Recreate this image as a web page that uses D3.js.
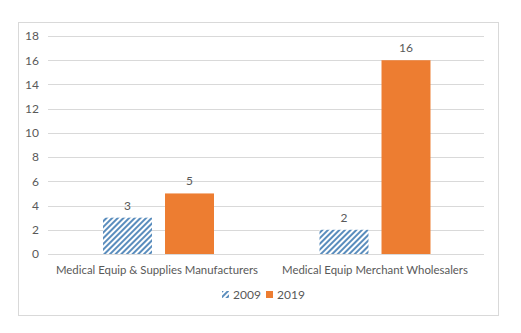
<!DOCTYPE html>
<html>
<head>
<meta charset="utf-8">
<script src="https://cdn.jsdelivr.net/npm/d3@7"></script>
<style>
  body { margin: 0; background: #fff; }
  svg text { font-family: Lato, "Open Sans", sans-serif; fill: #595959; }
</style>
</head>
<body>
<div id="chart"></div>
<script>
const categories = ["Medical Equip & Supplies Manufacturers", "Medical Equip Merchant Wholesalers"];
const seriesNames = ["2009", "2019"];
const values2009 = [3, 2];
const values2019 = [5, 16];
const yTicks = [0, 2, 4, 6, 8, 10, 12, 14, 16, 18];

const width = 521, height = 333;
const margin = { top: 36, right: 37, bottom: 79, left: 48 };
const chartWidth = width - margin.left - margin.right;
const chartHeight = height - margin.top - margin.bottom;

const svg = d3.select("#chart")
  .append("svg")
  .attr("width", width)
  .attr("height", height);

// hatch fill for the 2009 bars
const defs = svg.append("defs");
const hatch = defs.append("pattern")
  .attr("id", "hatch")
  .attr("patternUnits", "userSpaceOnUse")
  .attr("width", 4)
  .attr("height", 4)
  .attr("patternTransform", "rotate(45)");
hatch.append("rect").attr("width", 4).attr("height", 4).attr("fill", "#fff");
hatch.append("rect").attr("width", 2).attr("height", 4).attr("fill", "#5a8dbd");

// outer chart frame
svg.append("rect")
  .attr("x", 18.5)
  .attr("y", 22.5)
  .attr("width", 480)
  .attr("height", 293)
  .attr("fill", "none")
  .attr("stroke", "#d9d9d9");

const g = svg.append("g")
  .attr("transform", `translate(${margin.left},${margin.top})`);

const y = d3.scaleLinear().domain([0, 18]).range([chartHeight, 0]);

const x0 = d3.scaleBand()
  .domain(categories)
  .range([0, chartWidth])
  .paddingInner(0)
  .paddingOuter(0);

const x1 = d3.scaleBand()
  .domain(seriesNames)
  .range([0, x0.bandwidth()])
  .paddingInner(0.21)
  .paddingOuter(0.863);

// gridlines
g.append("g")
  .selectAll("line")
  .data(yTicks)
  .join("line")
  .attr("x1", 0)
  .attr("x2", chartWidth)
  .attr("y1", d => Math.round(y(d)) + 0.5)
  .attr("y2", d => Math.round(y(d)) + 0.5)
  .attr("stroke", "#d9d9d9");

// y axis labels
const yAxis = g.append("g")
  .call(d3.axisLeft(y).tickValues(yTicks).tickSize(0).tickPadding(9));
yAxis.select(".domain").remove();
yAxis.selectAll("text").attr("font-size", "12px").style("font-family", "Lato, sans-serif").attr("fill", "#595959");

const data = categories.map((c, i) => ({
  category: c,
  bars: [
    { series: "2009", value: values2009[i] },
    { series: "2019", value: values2019[i] }
  ]
}));

const groups = g.selectAll(".group")
  .data(data)
  .join("g")
  .attr("transform", (d, i) => `translate(${x0(d.category) + (i === 0 ? 1.5 : 0)},0)`);

groups.selectAll("rect")
  .data(d => d.bars)
  .join("rect")
  .attr("x", d => x1(d.series))
  .attr("width", x1.bandwidth())
  .attr("y", d => y(d.value))
  .attr("height", d => chartHeight - y(d.value))
  .attr("fill", d => d.series === "2009" ? "url(#hatch)" : "#ed7d31");

groups.selectAll(".value")
  .data(d => d.bars)
  .join("text")
  .attr("class", "value")
  .attr("x", d => x1(d.series) + x1.bandwidth() / 2)
  .attr("y", d => y(d.value) - 8)
  .attr("text-anchor", "middle")
  .attr("font-size", "12px")
  .text(d => d.value);

// category labels
g.selectAll(".cat")
  .data(categories)
  .join("text")
  .attr("class", "cat")
  .attr("x", d => x0(d) + x0.bandwidth() / 2)
  .attr("y", chartHeight + 20)
  .attr("text-anchor", "middle")
  .attr("font-size", "11.4px")
  .text(d => d);

// legend
const legend = svg.append("g").attr("transform", "translate(222,290)");
const legendX = [0, 44];
seriesNames.forEach((s, i) => {
  legend.append("rect")
    .attr("x", legendX[i])
    .attr("y", 1)
    .attr("width", 7)
    .attr("height", 7)
    .attr("fill", s === "2009" ? "url(#hatch)" : "#ed7d31");
  legend.append("text")
    .attr("x", legendX[i] + 11)
    .attr("y", 9)
    .attr("font-size", "12px")
    .text(s);
});
</script>
</body>
</html>
